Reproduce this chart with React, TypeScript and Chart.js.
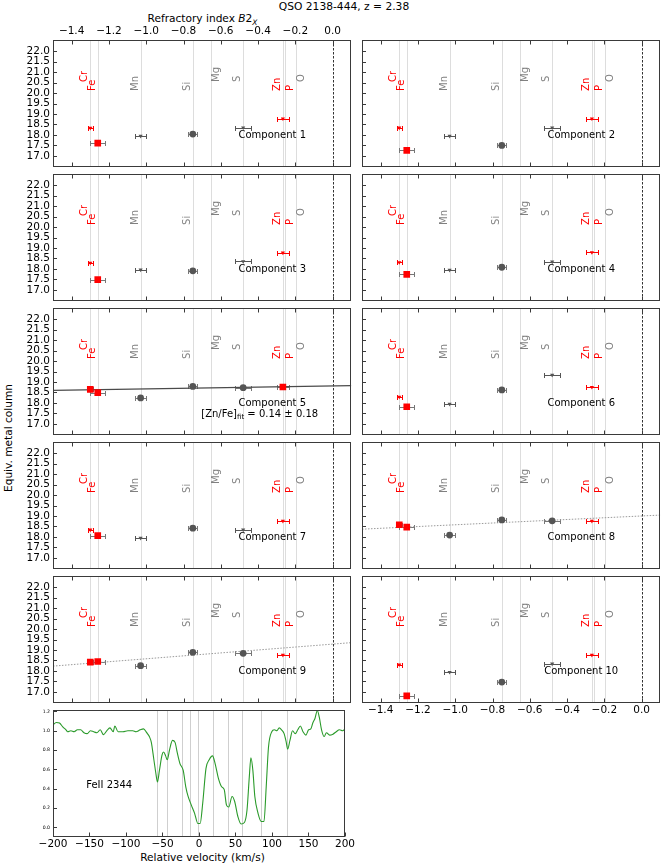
import React, { useEffect, useRef } from "react";
import { Chart, registerables } from "chart.js";

Chart.register(...registerables);

const FONT = "'DejaVu Sans', sans-serif";

/* ------------------------------------------------------------------ data */
// Elements marked in every panel (refractory index B2_X)
const ELEMENTS = ["Cr", "Fe", "Mn", "Si", "Mg", "S", "Zn", "P", "O"];
const ELEMENT_B2 = [-1.3, -1.26, -1.03, -0.75, -0.655, -0.48, -0.267, -0.254, -0.196];

// Measured species
const SPECIES = ["Cr", "Fe", "Mn", "Si", "S", "Zn"];
const SPECIES_B2 = [-1.3, -1.26, -1.03, -0.75, -0.48, -0.267];
const SPECIES_B2_ERR = [0.012, 0.04, 0.03, 0.025, 0.042, 0.032];

// Equivalent metal column per component (D = detection, L = limit)
const COMP1 = [18.33, 17.61, 17.95, 18.04, 18.35, 18.78];
const COMP1_KIND = "LDLDLL";
const COMP2 = [18.34, 17.26, 17.95, 17.5, 18.35, 18.78];
const COMP2_KIND = "LDLDLL";
const COMP3 = [18.29, 17.49, 17.96, 17.91, 18.36, 18.77];
const COMP3_KIND = "LDLDLL";
const COMP4 = [18.31, 17.74, 17.95, 18.08, 18.34, 18.79];
const COMP4_KIND = "LDLDLL";
const COMP5 = [18.65, 18.49, 18.24, 18.79, 18.73, 18.76];
const COMP5_KIND = "DDDDDD";
const COMP6 = [18.29, 17.82, 17.95, 18.62, 19.33, 18.75];
const COMP6_KIND = "LDLDLL";
const COMP7 = [18.34, 18.06, 17.95, 18.42, 18.34, 18.76];
const COMP7_KIND = "LDLDLL";
const COMP8 = [18.58, 18.47, 18.09, 18.81, 18.77, 18.76];
const COMP8_KIND = "DDDDDL";
const COMP9 = [18.42, 18.45, 18.25, 18.89, 18.84, 18.76];
const COMP9_KIND = "DDDDDL";
const COMP10 = [18.3, 16.81, 17.94, 17.47, 18.34, 18.76];
const COMP10_KIND = "LDLDLL";

const COMPONENT_VALUES = [COMP1, COMP2, COMP3, COMP4, COMP5, COMP6, COMP7, COMP8, COMP9, COMP10];
const COMPONENT_KINDS = [COMP1_KIND, COMP2_KIND, COMP3_KIND, COMP4_KIND, COMP5_KIND, COMP6_KIND, COMP7_KIND, COMP8_KIND, COMP9_KIND, COMP10_KIND];

// Depletion-pattern fits
const FIT_COMPONENT = [5, 8, 9];
const FIT_INTERCEPT = [18.81, 19.0, 19.28];
const FIT_SLOPE = [0.14, 0.42, 0.7];
const FIT_LABEL = ["0.14 \u00b1 0.18", "", ""];

const X_TICKS = [-1.4, -1.2, -1.0, -0.8, -0.6, -0.4, -0.2, 0.0];
const Y_TICKS = [17.0, 17.5, 18.0, 18.5, 19.0, 19.5, 20.0, 20.5, 21.0, 21.5, 22.0];

// FeII 2344 spectrum
const VELOCITY = [
  -200, -195.5, -191.1, -186.6, -182.2, -179.9, -175.5, -171.0, -166.6, -162.1,
  -157.6, -153.2, -148.7, -144.3, -139.8, -135.3, -130.9, -126.4, -122.0, -117.5,
  -115.3, -110.8, -104.1, -97.4, -90.7, -86.3, -80.5, -76.0, -71.6, -68.0,
  -65.3, -61.8, -59.1, -56.9, -54.2, -50.6, -48.4, -45.7, -43.5, -40.4,
  -36.3, -32.8, -29.7, -26.1, -21.6, -18.1, -14.9, -10.5, -6.0, -1.6,
  1.6, 5.1, 9.6, 14.0, 18.5, 22.1, 26.5, 31.0, 34.6, 37.7,
  40.8, 45.3, 48.8, 53.3, 57.7, 62.2, 65.8, 68.9, 71.1, 73.8,
  76.5, 80.9, 85.4, 89.0, 92.1, 95.2, 99.7, 103.2, 106.8, 109.9,
  113.0, 116.6, 119.3, 121.5, 124.6, 128.2, 131.8, 135.3, 138.9, 142.5,
  146.5, 150.1, 153.2, 155.9, 159.0, 162.1, 164.8, 167.9, 171.5, 174.6,
  179.0, 183.5, 188.0, 192.4, 196.9, 200,
];
const FLUX = [
  1.06, 1.086, 1.08, 1.04, 1.01, 0.99, 1.0, 0.99, 1.01, 1.01,
  0.98, 0.97, 1.0, 0.99, 0.98, 1.01, 0.96, 1.0, 1.03, 0.99,
  1.05, 0.99, 0.99, 1.0, 1.0, 0.99, 1.01, 1.02, 0.98, 0.94,
  0.88, 0.7, 0.56, 0.47, 0.59, 0.75, 0.78, 0.74, 0.7, 0.8,
  0.9, 0.88, 0.77, 0.66, 0.59, 0.42, 0.32, 0.23, 0.145, 0.04,
  0.04, 0.25, 0.61, 0.7, 0.74, 0.66, 0.51, 0.42, 0.39, 0.23,
  0.21, 0.32, 0.27, 0.11, 0.034, 0.05, 0.18, 0.52, 0.72, 0.59,
  0.32, 0.145, 0.06, 0.06, 0.42, 0.83, 0.99, 1.01, 1.0, 1.03,
  1.01, 0.97, 0.89, 0.81, 0.9, 1.0, 0.97, 1.01, 1.05, 0.99,
  0.955, 1.01, 1.02, 1.08, 1.13, 1.21, 1.14, 1.01, 0.94, 0.98,
  0.955, 0.965, 0.99, 1.01, 1.0, 1.02,
];
const COMPONENT_VELOCITY = [-57, -43.5, -23.4, -11.8, -0.7, 19.8, 39.5, 59.5, 85.4, 121];
const V_TICKS = [-200, -150, -100, -50, 0, 50, 100, 150, 200];
const F_TICKS = [0.0, 0.2, 0.4, 0.6, 0.8, 1.0, 1.2];

/* ---------------------------------------------------------- layout/style */
const COL_LEFT = [53, 362];
const PLOT_W = 299;
const ROW_TOP = 40;
const ROW_STEP = 134;
const PLOT_H = 127;
const X_MIN = -1.5;
const X_MAX = 0.1;
const Y_MIN = 16.47;
const Y_MAX = 22.53;
const RED = "#ff0000";
const DARK = "#555555";
const LABEL_GREY = "#808080";
const FRAME = "#3a3a3a";
const RED_SPECIES = ["Cr", "Fe", "Zn", "P"];
const LABEL_SIDE = [-1, -1, -1, -1, 1, -1, -1, 1, 1];
const LABEL_TIER = [1, 0, 0, 0, 1, 1, 0, 0, 1];
const TIER_BASE = [20.1, 20.53];
const TICK_FONT = { family: FONT, size: 10.5 };
const NO_GRID = { display: false, drawTicks: false };

function fmt(v: number, d: number) {
  if (Math.abs(v) < 1e-9) return (0).toFixed(d);
  return v < 0 ? "\u2212" + Math.abs(v).toFixed(d) : v.toFixed(d);
}

function drawFrame(chart: any, xTicks: number[], yTicks: number[], xTop: boolean) {
  const { ctx, chartArea: a } = chart;
  const x = chart.scales.x;
  const y = chart.scales.y;
  const L = Math.round(a.left) + 0.5;
  const R = Math.round(a.right) - 0.5;
  const T = Math.round(a.top) + 0.5;
  const B = Math.round(a.bottom) - 0.5;
  ctx.save();
  ctx.strokeStyle = FRAME;
  ctx.lineWidth = 1;
  ctx.strokeRect(L, T, R - L, B - T);
  ctx.beginPath();
  xTicks.forEach((v) => {
    const px = Math.round(x.getPixelForValue(v)) + 0.5;
    ctx.moveTo(px, B);
    ctx.lineTo(px, B - 4);
    if (xTop) {
      ctx.moveTo(px, T);
      ctx.lineTo(px, T + 4);
    }
  });
  yTicks.forEach((v) => {
    const py = Math.round(y.getPixelForValue(v)) + 0.5;
    ctx.moveTo(L, py);
    ctx.lineTo(L + 3.5, py);
  });
  ctx.stroke();
  ctx.restore();
}

function panelPlugin(i: number) {
  const compNo = i + 1;
  const fitIdx = FIT_COMPONENT.indexOf(compNo);
  return {
    id: "panelDecor",
    beforeDatasetsDraw(chart: any) {
      const { ctx, chartArea: a } = chart;
      const x = chart.scales.x;
      const y = chart.scales.y;
      ctx.save();
      ctx.beginPath();
      ctx.rect(a.left, a.top, a.right - a.left, a.bottom - a.top);
      ctx.clip();
      ctx.lineWidth = 1;
      ctx.strokeStyle = "#dddddd";
      ELEMENT_B2.forEach((b) => {
        const px = Math.round(x.getPixelForValue(b)) + 0.5;
        ctx.beginPath();
        ctx.moveTo(px, a.top);
        ctx.lineTo(px, a.bottom);
        ctx.stroke();
      });
      ctx.strokeStyle = "#333333";
      ctx.setLineDash([2.5, 1.5]);
      const z = Math.round(x.getPixelForValue(0)) + 0.5;
      ctx.beginPath();
      ctx.moveTo(z, a.top);
      ctx.lineTo(z, a.bottom);
      ctx.stroke();
      ctx.setLineDash([]);

      ctx.font = `10px ${FONT}`;
      ctx.textAlign = "left";
      ctx.textBaseline = "middle";
      ELEMENTS.forEach((el, k) => {
        ctx.save();
        ctx.translate(
          x.getPixelForValue(ELEMENT_B2[k]) + LABEL_SIDE[k] * 5.5,
          y.getPixelForValue(TIER_BASE[LABEL_TIER[k]])
        );
        ctx.rotate(-Math.PI / 2);
        ctx.fillStyle = RED_SPECIES.includes(el) ? RED : LABEL_GREY;
        ctx.fillText(el, 0, 0);
        ctx.restore();
      });

      chart.data.datasets.forEach((ds: any) => {
        (ds.data as any[]).forEach((p) => {
          if (!p.xerr) return;
          const x0 = Math.round(x.getPixelForValue(p.x - p.xerr)) + 0.5;
          const x1 = Math.round(x.getPixelForValue(p.x + p.xerr)) + 0.5;
          const py = Math.round(y.getPixelForValue(p.y)) + 0.5;
          ctx.strokeStyle = p.ec;
          ctx.beginPath();
          ctx.moveTo(x0, py);
          ctx.lineTo(x1, py);
          ctx.moveTo(x0, py - 2.5);
          ctx.lineTo(x0, py + 2.5);
          ctx.moveTo(x1, py - 2.5);
          ctx.lineTo(x1, py + 2.5);
          ctx.stroke();
        });
      });
      ctx.restore();
    },
    afterDatasetsDraw(chart: any) {
      const { ctx, chartArea: a } = chart;
      drawFrame(chart, X_TICKS, Y_TICKS, true);
      const w = a.right - a.left;
      const h = a.bottom - a.top;
      ctx.save();
      ctx.fillStyle = "#000";
      ctx.font = `10px ${FONT}`;
      ctx.textAlign = "center";
      ctx.textBaseline = "middle";
      ctx.fillText(`Component ${compNo}`, a.left + 0.735 * w, a.top + 0.755 * h);
      if (fitIdx >= 0 && FIT_LABEL[fitIdx]) {
        const p1 = "[Zn/Fe]";
        const p3 = " = " + FIT_LABEL[fitIdx];
        ctx.font = `10px ${FONT}`;
        const w1 = ctx.measureText(p1).width;
        const w3 = ctx.measureText(p3).width;
        ctx.font = `7px ${FONT}`;
        const w2 = ctx.measureText("fit").width;
        const total = w1 + w2 + w3;
        let cx = a.left + 0.693 * w - total / 2;
        const cy = a.top + 0.838 * h;
        ctx.textAlign = "left";
        ctx.font = `10px ${FONT}`;
        ctx.fillText(p1, cx, cy);
        cx += w1;
        ctx.font = `7px ${FONT}`;
        ctx.fillText("fit", cx, cy + 2.5);
        cx += w2;
        ctx.font = `10px ${FONT}`;
        ctx.fillText(p3, cx, cy);
      }
      ctx.restore();
    },
  };
}

function panelConfig(i: number) {
  const col = i % 2;
  const compNo = i + 1;
  const values = COMPONENT_VALUES[i];
  const kind = COMPONENT_KINDS[i];
  const showLeft = col === 0;
  const showTop = i === 0;
  const showBottom = i === 9;
  const padL = col === 0 ? COL_LEFT[0] : 10;
  const padT = showTop ? 30 : 10;
  const padB = showBottom ? 18 : 10;

  const pts = SPECIES.map((s, j) => {
    const red = RED_SPECIES.includes(s);
    const det = kind[j] === "D";
    return {
      x: SPECIES_B2[j],
      y: values[j],
      xerr: SPECIES_B2_ERR[j],
      red,
      det,
      ec: det ? "#777777" : red ? RED : DARK,
    };
  });

  const datasets: any[] = [
    {
      data: pts.filter((p) => p.det && p.red),
      pointStyle: "rect",
      pointRadius: 4.7,
      pointBackgroundColor: RED,
      pointBorderWidth: 0,
    },
    {
      data: pts.filter((p) => p.det && !p.red),
      pointStyle: "circle",
      pointRadius: 3.4,
      pointBackgroundColor: DARK,
      pointBorderWidth: 0,
    },
    {
      data: pts.filter((p) => !p.det && p.red),
      pointStyle: "triangle",
      pointRotation: 180,
      pointRadius: 2.4,
      pointBackgroundColor: RED,
      pointBorderWidth: 0,
    },
    {
      data: pts.filter((p) => !p.det && !p.red),
      pointStyle: "triangle",
      pointRotation: 180,
      pointRadius: 2.4,
      pointBackgroundColor: DARK,
      pointBorderWidth: 0,
    },
  ];
  const fitIdx = FIT_COMPONENT.indexOf(compNo);
  if (fitIdx >= 0) {
    const b = FIT_INTERCEPT[fitIdx];
    const m = FIT_SLOPE[fitIdx];
    const solid = FIT_LABEL[fitIdx] !== "";
    datasets.push({
      data: [
        { x: X_MIN, y: b + m * X_MIN },
        { x: X_MAX, y: b + m * X_MAX },
      ],
      showLine: true,
      pointRadius: 0,
      borderColor: solid ? "#4a4a4a" : "#9a9a9a",
      borderWidth: solid ? 1.3 : 1,
      borderDash: solid ? [] : [1.5, 1.5],
    });
  }

  const xTicksCb = (v: any) => fmt(Number(v), 1);
  return {
    type: "scatter",
    data: { datasets },
    plugins: [panelPlugin(i)],
    options: {
      responsive: false,
      animation: false,
      devicePixelRatio: 1,
      events: [],
      layout: {
        padding: {
          left: showLeft ? 0 : padL,
          right: 4,
          top: showTop ? 0 : padT,
          bottom: showBottom ? 0 : padB,
        },
      },
      plugins: { legend: { display: false }, tooltip: { enabled: false } },
      scales: {
        x: {
          type: "linear",
          position: "bottom",
          min: X_MIN,
          max: X_MAX,
          display: showBottom,
          grid: NO_GRID,
          border: { display: false },
          ticks: { font: TICK_FONT, color: "#000", padding: 1, maxRotation: 0, autoSkip: false, callback: xTicksCb },
          afterBuildTicks: (s: any) => {
            s.ticks = X_TICKS.map((v) => ({ value: v }));
          },
          afterFit: (s: any) => {
            if (showBottom) s.height = padB;
          },
        },
        xTop: {
          type: "linear",
          position: "top",
          min: X_MIN,
          max: X_MAX,
          display: showTop,
          grid: NO_GRID,
          border: { display: false },
          ticks: { font: TICK_FONT, color: "#000", padding: 2, maxRotation: 0, autoSkip: false, callback: xTicksCb },
          afterBuildTicks: (s: any) => {
            s.ticks = X_TICKS.map((v) => ({ value: v }));
          },
          afterFit: (s: any) => {
            if (showTop) s.height = padT;
          },
        },
        y: {
          type: "linear",
          min: Y_MIN,
          max: Y_MAX,
          display: showLeft,
          grid: NO_GRID,
          border: { display: false },
          ticks: { font: TICK_FONT, color: "#000", padding: 3, autoSkip: false, callback: (v: any) => fmt(Number(v), 1) },
          afterBuildTicks: (s: any) => {
            s.ticks = Y_TICKS.map((v) => ({ value: v }));
          },
          afterFit: (s: any) => {
            if (showLeft) s.width = padL;
          },
        },
      },
    },
    geom: { padL, padT, padB },
  };
}

function Panel({ index }: { index: number }) {
  const ref = useRef<HTMLCanvasElement>(null);
  const col = index % 2;
  const row = Math.floor(index / 2);
  const cfg: any = panelConfig(index);
  const { padL, padT, padB } = cfg.geom;
  const left = COL_LEFT[col] - padL;
  const top = ROW_TOP + ROW_STEP * row - padT;
  const width = padL + PLOT_W + 4;
  const height = padT + PLOT_H + padB;
  useEffect(() => {
    if (!ref.current) return;
    const c = panelConfig(index) as any;
    delete c.geom;
    const chart = new Chart(ref.current, c);
    return () => chart.destroy();
  }, [index]);
  return (
    <canvas
      ref={ref}
      width={width}
      height={height}
      style={{ position: "absolute", left, top, width, height }}
    />
  );
}

function Spectrum() {
  const ref = useRef<HTMLCanvasElement>(null);
  const padL = COL_LEFT[0];
  const padT = 10;
  const padB = 16;
  const plotTop = ROW_TOP + ROW_STEP * 5;
  const left = 0;
  const top = plotTop - padT;
  const width = padL + PLOT_W + 4;
  const height = padT + PLOT_H + padB;
  useEffect(() => {
    if (!ref.current) return;
    const decor = {
      id: "specDecor",
      beforeDatasetsDraw(chart: any) {
        const { ctx, chartArea: a } = chart;
        const x = chart.scales.x;
        const y = chart.scales.y;
        ctx.save();
        ctx.strokeStyle = "#cfcfcf";
        ctx.lineWidth = 1;
        COMPONENT_VELOCITY.forEach((v) => {
          const px = Math.round(x.getPixelForValue(v)) + 0.5;
          ctx.beginPath();
          ctx.moveTo(px, a.top);
          ctx.lineTo(px, a.bottom);
          ctx.stroke();
        });
        ctx.fillStyle = "#000";
        ctx.font = `10px ${FONT}`;
        ctx.textAlign = "center";
        ctx.textBaseline = "middle";
        ctx.fillText("FeII 2344", x.getPixelForValue(-123), y.getPixelForValue(0.43));
        ctx.restore();
      },
      afterDatasetsDraw(chart: any) {
        drawFrame(chart, V_TICKS, F_TICKS, false);
      },
    };
    const chart = new Chart(ref.current, {
      type: "line",
      data: {
        datasets: [
          {
            data: VELOCITY.map((v, k) => ({ x: v, y: FLUX[k] })),
            borderColor: "#2a9a2a",
            borderWidth: 1.1,
            pointRadius: 0,
            cubicInterpolationMode: "monotone",
          },
        ],
      },
      plugins: [decor],
      options: {
        responsive: false,
        animation: false,
        devicePixelRatio: 1,
        events: [],
        layout: { padding: { left: 0, right: 4, top: padT, bottom: 0 } },
        plugins: { legend: { display: false }, tooltip: { enabled: false } },
        scales: {
          x: {
            type: "linear",
            min: -200,
            max: 200,
            grid: NO_GRID,
            border: { display: false },
            ticks: { font: TICK_FONT, color: "#000", padding: 1, maxRotation: 0, autoSkip: false, callback: (v: any) => fmt(Number(v), 0) },
            afterBuildTicks: (s: any) => {
              s.ticks = V_TICKS.map((v) => ({ value: v }));
            },
            afterFit: (s: any) => {
              s.height = padB;
            },
          },
          y: {
            type: "linear",
            min: -0.1,
            max: 1.215,
            grid: NO_GRID,
            border: { display: false },
            ticks: { font: { family: FONT, size: 4.6 }, color: "#000", padding: 3, autoSkip: false, callback: (v: any) => Number(v).toFixed(1) },
            afterBuildTicks: (s: any) => {
              s.ticks = F_TICKS.map((v) => ({ value: v }));
            },
            afterFit: (s: any) => {
              s.width = padL;
            },
          },
        },
      },
    } as any);
    return () => chart.destroy();
  }, []);
  return (
    <canvas
      ref={ref}
      width={width}
      height={height}
      style={{ position: "absolute", left, top, width, height }}
    />
  );
}

const textBase: React.CSSProperties = {
  position: "absolute",
  whiteSpace: "nowrap",
  lineHeight: 1,
  color: "#000",
  fontFamily: FONT,
  transform: "translate(-50%, -50%)",
};

export default function App() {
  return (
    <div
      style={{
        position: "absolute",
        left: 0,
        top: 0,
        width: 664,
        height: 865,
        background: "#fff",
        overflow: "hidden",
      }}
    >
      <div style={{ ...textBase, left: 344, top: 7, fontSize: 10.7 }}>QSO 2138-444, z = 2.38</div>
      <div style={{ ...textBase, left: 202.5, top: 20, fontSize: 10.6 }}>
        Refractory index <i>B</i>2
        <sub style={{ fontSize: "0.7em", verticalAlign: "-0.35em", fontStyle: "italic" }}>X</sub>
      </div>
      <div style={{ ...textBase, left: 8, top: 438, fontSize: 10.6, transform: "translate(-50%, -50%) rotate(-90deg)" }}>
        Equiv. metal column
      </div>
      <div style={{ ...textBase, left: 202.5, top: 857, fontSize: 10.6 }}>Relative velocity (km/s)</div>
      {COMPONENT_VALUES.map((_, i) => (
        <Panel key={i} index={i} />
      ))}
      <Spectrum />
    </div>
  );
}
